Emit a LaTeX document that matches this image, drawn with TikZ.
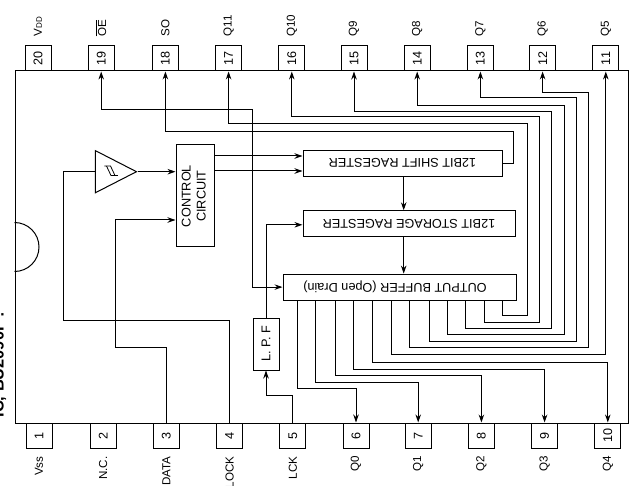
\documentclass[tikz,border=0pt]{standalone}
\usepackage{fontspec}
\setmainfont{Liberation Sans}
\usetikzlibrary{shapes.geometric, arrows.meta}
\tikzstyle{chipbody} = [
    rectangle,
    minimum width=613pt,
    minimum height=352pt,
    inner sep=0pt,
    draw=black
]
\tikzstyle{pinbox} = [
    rectangle,
    minimum width=26pt,
    minimum height=25pt,
    inner sep=0pt,
    font=\fontsize{12.6}{15}\selectfont,
    draw=black
]
\tikzstyle{process} = [
    rectangle,
    minimum height=26pt,
    inner sep=0pt,
    draw=black
]
\tikzstyle{toplabel} = [
    anchor=south,
    inner sep=0pt,
    yshift=-41.7pt,
    font=\fontsize{11.6}{14}\selectfont
]
\tikzstyle{bottomlabel} = [
    anchor=north,
    inner sep=0pt,
    yshift=42.7pt,
    font=\fontsize{11.6}{14}\selectfont
]
\tikzstyle{schmitt} = [
    isosceles triangle,
    isosceles triangle stretches,
    minimum width=42pt,
    minimum height=41pt,
    inner sep=0pt,
    draw=black
]
\tikzstyle{arrow} = [line width=1pt,->,>={Stealth[length=8pt,width=5.5pt]}]
\tikzstyle{wire} = [line width=1pt]

\begin{document}
\begin{tikzpicture}[x=1pt, y=1pt, node distance=63.2pt, line width=1pt,
    font=\fontsize{12.7}{15}\selectfont]

\useasboundingbox (0,0) rectangle (629,-486);

\node (title) [anchor=base west, inner sep=0pt, rotate=90,
    font=\fontsize{16.4}{18}\selectfont\bfseries] at (3.5,-418)
{IC, BU2090F :};

\node (chip) [chipbody] at (321.5,-247) {};
\draw ([yshift=24.5pt]chip.west) arc (90:-90:24.5pt);

% upper row of pins
\node (pin20) [pinbox] at (38,-58.5) {\rotatebox{90}{20}};
\node (pin19) [pinbox, right of=pin20] {\rotatebox{90}{19}};
\node (pin18) [pinbox, right of=pin19, xshift=1pt] {\rotatebox{90}{18}};
\node (pin17) [pinbox, right of=pin18] {\rotatebox{90}{17}};
\node (pin16) [pinbox, right of=pin17] {\rotatebox{90}{16}};
\node (pin15) [pinbox, right of=pin16, xshift=-1pt] {\rotatebox{90}{15}};
\node (pin14) [pinbox, right of=pin15] {\rotatebox{90}{14}};
\node (pin13) [pinbox, right of=pin14] {\rotatebox{90}{13}};
\node (pin12) [pinbox, right of=pin13, xshift=-1pt] {\rotatebox{90}{12}};
\node (pin11) [pinbox, right of=pin12] {\rotatebox{90}{11}};

\node (vdd) [above of=pin20, toplabel]
{\rotatebox{90}{V{\fontsize{8}{9}\selectfont DD}}};
\node (oe) [above of=pin19, toplabel] {\rotatebox{90}{$\overline{\mbox{OE}}$}};
\node (so) [above of=pin18, toplabel] {\rotatebox{90}{SO}};
\node (q11) [above of=pin17, toplabel] {\rotatebox{90}{Q11}};
\node (q10) [above of=pin16, toplabel] {\rotatebox{90}{Q10}};
\node (q9) [above of=pin15, toplabel] {\rotatebox{90}{Q9}};
\node (q8) [above of=pin14, toplabel] {\rotatebox{90}{Q8}};
\node (q7) [above of=pin13, toplabel] {\rotatebox{90}{Q7}};
\node (q6) [above of=pin12, toplabel] {\rotatebox{90}{Q6}};
\node (q5) [above of=pin11, toplabel] {\rotatebox{90}{Q5}};

% lower row of pins
\node (pin1) [pinbox] at (39,-435.5) {\rotatebox{90}{1}};
\node (pin2) [pinbox, right of=pin1, xshift=1pt] {\rotatebox{90}{2}};
\node (pin3) [pinbox, right of=pin2] {\rotatebox{90}{3}};
\node (pin4) [pinbox, right of=pin3] {\rotatebox{90}{4}};
\node (pin5) [pinbox, right of=pin4] {\rotatebox{90}{5}};
\node (pin6) [pinbox, right of=pin5] {\rotatebox{90}{6}};
\node (pin7) [pinbox, right of=pin6, xshift=-1pt] {\rotatebox{90}{7}};
\node (pin8) [pinbox, right of=pin7] {\rotatebox{90}{8}};
\node (pin9) [pinbox, right of=pin8] {\rotatebox{90}{9}};
\node (pin10) [pinbox, right of=pin9] {\rotatebox{90}{10}};

\node (vss) [below of=pin1, bottomlabel] {\rotatebox{90}{Vss}};
\node (nc) [below of=pin2, bottomlabel] {\rotatebox{90}{N.C.}};
\node (data) [below of=pin3, bottomlabel] {\rotatebox{90}{DATA}};
\node (clock) [below of=pin4, bottomlabel] {\rotatebox{90}{CLOCK}};
\node (lck) [below of=pin5, bottomlabel] {\rotatebox{90}{LCK}};
\node (q0) [below of=pin6, bottomlabel] {\rotatebox{90}{Q0}};
\node (q1) [below of=pin7, bottomlabel] {\rotatebox{90}{Q1}};
\node (q2) [below of=pin8, bottomlabel] {\rotatebox{90}{Q2}};
\node (q3) [below of=pin9, bottomlabel] {\rotatebox{90}{Q3}};
\node (q4) [below of=pin10, bottomlabel] {\rotatebox{90}{Q4}};

% blocks
\node (control) [process, minimum width=38pt, minimum height=102pt] at (195,-196)
{\rotatebox{90}{\begin{tabular}{@{}c@{}}CONTROL\\CIRCUIT\end{tabular}}};

\node (shift) [process, minimum width=199pt, right of=control,
    xshift=144.3pt, yshift=32.7pt]
{\rotatebox{180}{12BIT SHIFT RAGESTER}};

\node (storage) [process, minimum width=212pt, below of=shift,
    xshift=6.5pt, yshift=2.7pt]
{\rotatebox{180}{12BIT STORAGE RAGESTER}};

\node (buffer) [process, minimum width=233pt, below of=storage,
    xshift=-9.5pt, yshift=-0.1pt]
{\rotatebox{180}{\hspace{9pt}OUTPUT BUFFER (Open Drain)}};

\node (lpf) [process, minimum width=26pt, minimum height=52pt, below of=control,
    xshift=71pt, yshift=-84.8pt]
{\rotatebox{90}{L. P. F}};

\node (input) [left of=control, schmitt, anchor=apex, xshift=6pt, yshift=24.3pt] {};

\draw [line width=0.8pt] ([shift={(9.5pt,5.7pt)}]input.lower side)
    -- ++(6,0) -- ++(4.5,-9.5) -- ++(3,0);
\draw [line width=0.8pt] ([shift={(11.5pt,5.7pt)}]input.lower side)
    -- ++(4.5,-9.5) -- ++(4,0);

% inputs
\coordinate (ctrla) at ([yshift=40pt]control.east);
\coordinate (ctrlb) at ([yshift=25pt]control.east);
\coordinate (busa) at ([xshift=1.2pt]shift.south);

\draw [wire] (input.lower side) -| (63.3,-320.7) -| (pin4.north);
\draw [arrow] (input.apex) -- (input.apex -| control.west);
\draw [arrow] (pin3.north) |- (115,-347) |- ([yshift=-24pt]control.west);
\draw [arrow] (ctrla) -- (ctrla -| shift.west);
\draw [arrow] (ctrlb) -- (ctrlb -| shift.west);
\draw [arrow] (busa) -- (busa |- storage.north);
\draw [arrow] (busa |- storage.south) -- (busa |- buffer.north);
\draw [arrow] (pin5.north) |- (266,-395) -- (lpf.south);
\draw [arrow] (lpf.north) |- ([yshift=-1pt]storage.west);
\draw [arrow] (shift.east) -| (513,-131.7) -| (pin18.south);
\draw [arrow, <->] (buffer.west) -| (252,-109.5) -| (pin19.south);

% outputs going up
\draw [arrow] ([xshift=-14pt]buffer.south east) |- (527,-315.7) -- (527,-123.3) -| (pin17.south);
\draw [arrow] ([xshift=-32.3pt]buffer.south east) |- (539,-322) -- (539,-117) -| (pin16.south);
\draw [arrow] ([xshift=-51.3pt]buffer.south east) |- (551,-328.7) -- (551,-112) -| (pin15.south);
\draw [arrow] ([xshift=-69.3pt]buffer.south east) |- (564,-334.7) -- (564,-106) -| (pin14.south);
\draw [arrow] ([xshift=-87pt]buffer.south east) |- (576.7,-341) -- (576.7,-98) -| (pin13.south);
\draw [arrow] ([xshift=-107pt]buffer.south east) |- (588,-347.7) -- (588,-92.3) -| (pin12.south);
\draw [arrow] ([xshift=-125pt]buffer.south east) -- ++(0,-54) -| (pin11.south);

% outputs going down
\draw [arrow] ([xshift=-144pt]buffer.south east) -- ++(0,-61.7) -| (pin10.north);
\draw [arrow] ([xshift=-163.3pt]buffer.south east) -- ++(0,-68.7) -| (pin9.north);
\draw [arrow] ([xshift=-181.3pt]buffer.south east) -- ++(0,-75.3) -| (pin8.north);
\draw [arrow] ([xshift=-201pt]buffer.south east) -- ++(0,-81.7) -| (pin7.north);
\draw [arrow] ([xshift=-218.7pt]buffer.south east) -- ++(0,-88.3) -| (pin6.north);

\end{tikzpicture}
\end{document}
